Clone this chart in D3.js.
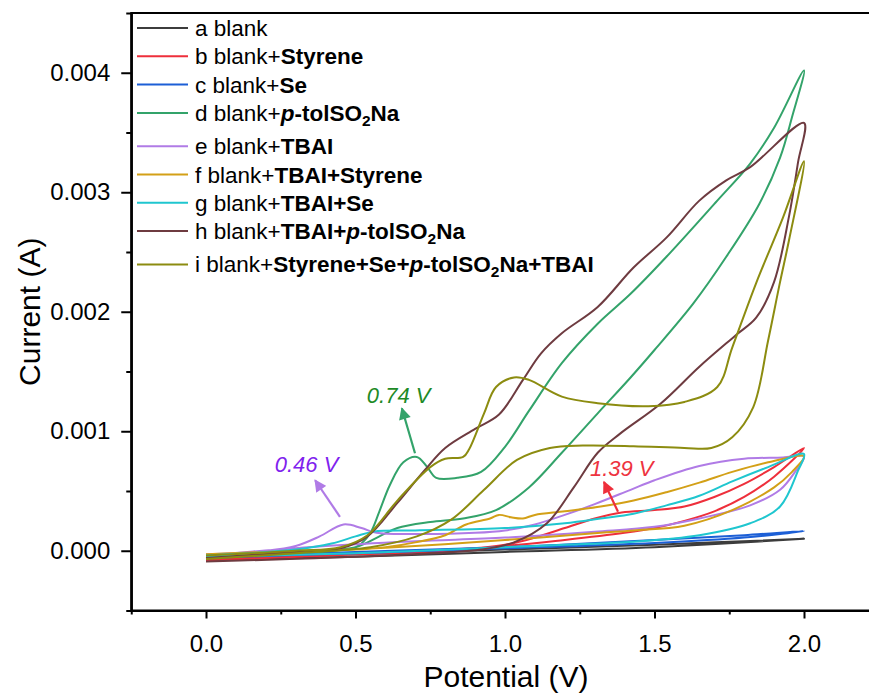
<!DOCTYPE html>
<html>
<head>
<meta charset="utf-8">
<script src="https://cdn.jsdelivr.net/npm/d3@7"></script>
<style>
  body { margin: 0; background: #fff; }
  svg { display: block; font-family: Arial, "Liberation Sans", sans-serif; }
</style>
</head>
<body>
<svg id="chart" width="869" height="693"></svg>
<script>
// CV curves: [potential (V), current (A)], forward sweep 0 -> 2 V then back to 0 V
const blank = [[0,-0.07e-3],[0.5,-0.03e-3],[1.0,0.01e-3],[1.5,0.05e-3],[2.0,0.10e-3],
  [1.5,0.03e-3],[1.0,-0.01e-3],[0.5,-0.05e-3],[0,-0.08e-3]];

const blankStyrene = [[0,-0.06e-3],[0.5,-0.03e-3],[0.8,0.0],[1.0,0.05e-3],[1.1,0.11e-3],[1.2,0.19e-3],
  [1.3,0.27e-3],[1.39,0.32e-3],[1.5,0.34e-3],[1.6,0.37e-3],[1.7,0.45e-3],[1.8,0.56e-3],[1.9,0.70e-3],[2.0,0.86e-3],
  [1.9,0.62e-3],[1.8,0.45e-3],[1.7,0.33e-3],[1.6,0.25e-3],[1.5,0.19e-3],[1.4,0.15e-3],[1.2,0.09e-3],
  [1.0,0.04e-3],[0.5,-0.03e-3],[0,-0.08e-3]];

const blankSe = [[0,-0.05e-3],[0.5,-0.01e-3],[1.0,0.03e-3],[1.5,0.09e-3],[1.8,0.13e-3],[2.0,0.165e-3],
  [1.8,0.11e-3],[1.5,0.065e-3],[1.0,0.02e-3],[0.5,-0.02e-3],[0,-0.06e-3]];

const blankTol = [[0,-0.05e-3],[0.3,-0.01e-3],[0.5,0.03e-3],[0.52,0.06e-3],[0.55,0.15e-3],[0.58,0.33e-3],
  [0.615,0.55e-3],[0.66,0.74e-3],[0.705,0.785e-3],[0.74,0.70e-3],[0.77,0.61e-3],[0.84,0.61e-3],[0.92,0.66e-3],
  [1.0,0.87e-3],[1.08,1.17e-3],[1.19,1.57e-3],[1.31,1.90e-3],[1.42,2.15e-3],[1.54,2.46e-3],[1.71,2.93e-3],
  [1.82,3.24e-3],[1.90,3.54e-3],[2.0,4.02e-3],
  [1.96,3.63e-3],[1.92,3.29e-3],[1.85,2.90e-3],[1.74,2.46e-3],[1.63,2.07e-3],[1.5,1.68e-3],[1.42,1.45e-3],
  [1.31,1.15e-3],[1.19,0.82e-3],[1.08,0.53e-3],[0.97,0.34e-3],[0.86,0.27e-3],[0.75,0.24e-3],[0.64,0.19e-3],
  [0.58,0.12e-3],[0.5,0.03e-3],[0.3,-0.02e-3],[0,-0.06e-3]];

const blankTBAI = [[0,-0.03e-3],[0.2,0.0],[0.3,0.04e-3],[0.38,0.12e-3],[0.46,0.22e-3],[0.52,0.19e-3],
  [0.57,0.15e-3],[0.7,0.14e-3],[0.9,0.15e-3],[1.0,0.17e-3],[1.1,0.22e-3],[1.2,0.30e-3],[1.3,0.39e-3],
  [1.42,0.51e-3],[1.5,0.59e-3],[1.65,0.71e-3],[1.8,0.77e-3],[1.93,0.78e-3],[2.0,0.79e-3],
  [1.97,0.66e-3],[1.92,0.51e-3],[1.82,0.38e-3],[1.65,0.27e-3],[1.5,0.20e-3],[1.3,0.16e-3],[1.0,0.11e-3],
  [0.7,0.08e-3],[0.4,0.04e-3],[0,-0.04e-3]];

const blankTBAIStyrene = [[0,-0.03e-3],[0.3,0.0],[0.5,0.01e-3],[0.6,0.03e-3],[0.7,0.07e-3],[0.8,0.13e-3],
  [0.87,0.22e-3],[0.95,0.27e-3],[0.98,0.30e-3],[1.02,0.28e-3],[1.06,0.27e-3],[1.1,0.30e-3],[1.2,0.33e-3],
  [1.32,0.37e-3],[1.43,0.42e-3],[1.54,0.49e-3],[1.65,0.57e-3],[1.76,0.66e-3],[1.88,0.74e-3],[2.0,0.79e-3],
  [1.96,0.66e-3],[1.9,0.53e-3],[1.76,0.34e-3],[1.6,0.21e-3],[1.43,0.17e-3],[1.32,0.15e-3],[1.0,0.09e-3],
  [0.7,0.04e-3],[0.4,0.0],[0,-0.05e-3]];

const blankTBAISe = [[0,-0.04e-3],[0.3,0.01e-3],[0.42,0.06e-3],[0.5,0.12e-3],[0.56,0.16e-3],[0.7,0.17e-3],
  [1.0,0.19e-3],[1.2,0.23e-3],[1.32,0.27e-3],[1.43,0.31e-3],[1.54,0.38e-3],[1.65,0.46e-3],[1.76,0.58e-3],
  [1.88,0.70e-3],[2.0,0.81e-3],
  [1.98,0.67e-3],[1.92,0.37e-3],[1.82,0.23e-3],[1.65,0.13e-3],[1.43,0.075e-3],[1.2,0.05e-3],[1.0,0.03e-3],
  [0.5,-0.02e-3],[0,-0.05e-3]];

const blankTBAITol = [[0,-0.06e-3],[0.3,-0.01e-3],[0.45,0.02e-3],[0.54,0.12e-3],[0.64,0.40e-3],[0.73,0.67e-3],
  [0.8,0.86e-3],[0.9,1.02e-3],[0.98,1.14e-3],[1.06,1.43e-3],[1.12,1.65e-3],[1.19,1.82e-3],[1.31,2.04e-3],
  [1.43,2.37e-3],[1.54,2.62e-3],[1.65,2.93e-3],[1.74,3.10e-3],[1.82,3.21e-3],[2.0,3.58e-3],
  [1.98,3.25e-3],[1.95,2.80e-3],[1.9,2.25e-3],[1.84,1.95e-3],[1.77,1.80e-3],[1.65,1.54e-3],[1.52,1.23e-3],
  [1.385,0.98e-3],[1.31,0.82e-3],[1.23,0.53e-3],[1.14,0.23e-3],[1.03,0.07e-3],[0.92,0.01e-3],[0.6,-0.04e-3],
  [0,-0.09e-3]];

const blankAll = [[0,-0.04e-3],[0.3,0.0],[0.45,0.03e-3],[0.54,0.13e-3],[0.64,0.42e-3],[0.75,0.70e-3],
  [0.8,0.77e-3],[0.86,0.785e-3],[0.88,0.85e-3],[0.93,1.15e-3],[0.97,1.37e-3],[1.03,1.45e-3],[1.08,1.43e-3],
  [1.19,1.29e-3],[1.31,1.235e-3],[1.48,1.21e-3],[1.6,1.245e-3],[1.71,1.37e-3],[1.76,1.70e-3],[1.84,2.24e-3],
  [1.93,2.79e-3],[2.0,3.26e-3],
  [1.95,2.60e-3],[1.92,2.25e-3],[1.88,1.76e-3],[1.83,1.20e-3],[1.76,0.95e-3],[1.69,0.86e-3],[1.6,0.86e-3],
  [1.43,0.875e-3],[1.26,0.88e-3],[1.15,0.86e-3],[1.04,0.76e-3],[0.93,0.51e-3],[0.82,0.26e-3],[0.705,0.12e-3],
  [0.55,0.03e-3],[0.3,-0.02e-3],[0,-0.07e-3]];

const seriesData = [blank, blankStyrene, blankSe, blankTol, blankTBAI, blankTBAIStyrene, blankTBAISe, blankTBAITol, blankAll];
const seriesColors = ["#3c3c3c", "#ee2f3b", "#1c5fd6", "#33a36a", "#b07be6", "#d3a017", "#1fc6cf", "#6e3b40", "#8c8c10"];

// legend label pieces: [text, style]  n=normal, b=bold, bi=bold italic, sub=bold subscript
const legendLabels = [
  [["a blank", "n"]],
  [["b blank+", "n"], ["Styrene", "b"]],
  [["c blank+", "n"], ["Se", "b"]],
  [["d blank+", "n"], ["p", "bi"], ["-tolSO", "b"], ["2", "sub"], ["Na", "b"]],
  [["e blank+", "n"], ["TBAI", "b"]],
  [["f blank+", "n"], ["TBAI+Styrene", "b"]],
  [["g blank+", "n"], ["TBAI+Se", "b"]],
  [["h blank+", "n"], ["TBAI+", "b"], ["p", "bi"], ["-tolSO", "b"], ["2", "sub"], ["Na", "b"]],
  [["i blank+", "n"], ["Styrene+Se+", "b"], ["p", "bi"], ["-tolSO", "b"], ["2", "sub"], ["Na+TBAI", "b"]]
];

// peak annotations: label position and arrow (from -> to) in data units
const peakLabels = ["0.46 V", "0.74 V", "1.39 V"];
const peakTextAt = [[0.23, 0.658e-3], [0.538, 1.234e-3], [1.284, 0.624e-3]];
const peakArrowFrom = [[0.448, 0.284e-3], [0.699, 0.816e-3], [1.378, 0.326e-3]];
const peakArrowTo = [[0.365, 0.59e-3], [0.655, 1.192e-3], [1.331, 0.576e-3]];
const peakTextColors = ["#7f22ee", "#1e8a26", "#ee3340"];
const peakArrowColors = ["#b07be6", "#33a36a", "#ee2f3b"];

const xMajor = [0, 0.5, 1.0, 1.5, 2.0];
const xMinor = [-0.25, 0.25, 0.75, 1.25, 1.75, 2.25];
const yMajor = [0, 0.001, 0.002, 0.003, 0.004];
const yMinor = [-0.0005, 0.0005, 0.0015, 0.0025, 0.0035, 0.0045];

const svg = d3.select("#chart");

const x = d3.scaleLinear().domain([-0.25, 2.25]).range([131.25, 878.75]);
const y = d3.scaleLinear().domain([-0.0005, 0.0045]).range([610.5, 13]);

// curves
const line = d3.line()
  .x(d => x(d[0]))
  .y(d => y(d[1]))
  .curve(d3.curveCatmullRom.alpha(0.5));

svg.append("g")
  .selectAll("path")
  .data(seriesData)
  .join("path")
  .attr("d", line)
  .attr("fill", "none")
  .attr("stroke", (d, i) => seriesColors[i])
  .attr("stroke-width", 2)
  .attr("stroke-linejoin", "round");

// frame
svg.append("rect")
  .attr("x", x.range()[0]).attr("y", y.range()[1])
  .attr("width", x.range()[1] - x.range()[0])
  .attr("height", y.range()[0] - y.range()[1])
  .attr("fill", "none").attr("stroke", "#000").attr("stroke-width", 2);

// axes
function styleAxis(g) {
  g.select(".domain").attr("stroke-width", 2);
  g.selectAll(".tick line").attr("stroke-width", 2);
  g.selectAll(".tick text").attr("font-size", 24).attr("fill", "#000")
    .attr("font-family", "Arial, 'Liberation Sans', sans-serif");
}

svg.append("g")
  .attr("transform", `translate(0,${y.range()[0]})`)
  .call(d3.axisBottom(x).tickValues(xMajor).tickFormat(d3.format(".1f")).tickSize(8).tickSizeOuter(0).tickPadding(16))
  .call(styleAxis);
svg.append("g")
  .attr("transform", `translate(0,${y.range()[0]})`)
  .call(d3.axisBottom(x).tickValues(xMinor).tickFormat("").tickSize(4).tickSizeOuter(0))
  .call(styleAxis);

svg.append("g")
  .attr("transform", `translate(${x.range()[0]},0)`)
  .call(d3.axisLeft(y).tickValues(yMajor).tickFormat(d3.format(".3f")).tickSize(10).tickSizeOuter(0).tickPadding(11))
  .call(styleAxis);
svg.append("g")
  .attr("transform", `translate(${x.range()[0]},0)`)
  .call(d3.axisLeft(y).tickValues(yMinor).tickFormat("").tickSize(5).tickSizeOuter(0))
  .call(styleAxis);

// axis titles
svg.append("text")
  .attr("x", 506).attr("y", 687)
  .attr("text-anchor", "middle").attr("font-size", 30)
  .text("Potential (V)");
svg.append("text")
  .attr("transform", `translate(40,${(y.range()[0] + y.range()[1]) / 2}) rotate(-90)`)
  .attr("text-anchor", "middle").attr("font-size", 30)
  .text("Current (A)");

// legend
const legend = svg.append("g");
let rowY = 28;
legendLabels.forEach((parts, i) => {
  legend.append("line")
    .attr("x1", 137).attr("x2", 188).attr("y1", rowY).attr("y2", rowY)
    .attr("stroke", seriesColors[i]).attr("stroke-width", 2);
  const t = legend.append("text").attr("x", 195).attr("y", rowY + 8).attr("font-size", 22.5);
  let shifted = false;
  parts.forEach(([txt, style]) => {
    const sp = t.append("tspan").text(txt);
    if (style !== "n") sp.attr("font-weight", "bold");
    if (style === "bi") sp.attr("font-style", "italic");
    if (style === "sub") {
      sp.attr("font-size", 15.5).attr("dy", 5);
      shifted = true;
    } else if (shifted) {
      sp.attr("dy", -5);
      shifted = false;
    }
  });
  const hasSub = parts.some(p => p[1] === "sub");
  rowY += 28.3 + (hasSub ? 5 : 0);
});

// peak annotations
const defs = svg.append("defs");
peakArrowColors.forEach((c, i) => {
  defs.append("marker")
    .attr("id", "arrow" + i)
    .attr("viewBox", "0 0 10 10")
    .attr("refX", 9).attr("refY", 5)
    .attr("markerWidth", 6).attr("markerHeight", 5.5)
    .attr("markerUnits", "strokeWidth")
    .attr("orient", "auto")
    .append("path").attr("d", "M0,0 L10,5 L0,10 Z").attr("fill", c);
});

peakLabels.forEach((lab, i) => {
  svg.append("line")
    .attr("x1", x(peakArrowFrom[i][0])).attr("y1", y(peakArrowFrom[i][1]))
    .attr("x2", x(peakArrowTo[i][0])).attr("y2", y(peakArrowTo[i][1]))
    .attr("stroke", peakArrowColors[i]).attr("stroke-width", 2.2)
    .attr("marker-end", `url(#arrow${i})`);
  svg.append("text")
    .attr("x", x(peakTextAt[i][0])).attr("y", y(peakTextAt[i][1]))
    .attr("font-size", 22).attr("font-style", "italic")
    .attr("fill", peakTextColors[i])
    .text(lab);
});
</script>
</body>
</html>
